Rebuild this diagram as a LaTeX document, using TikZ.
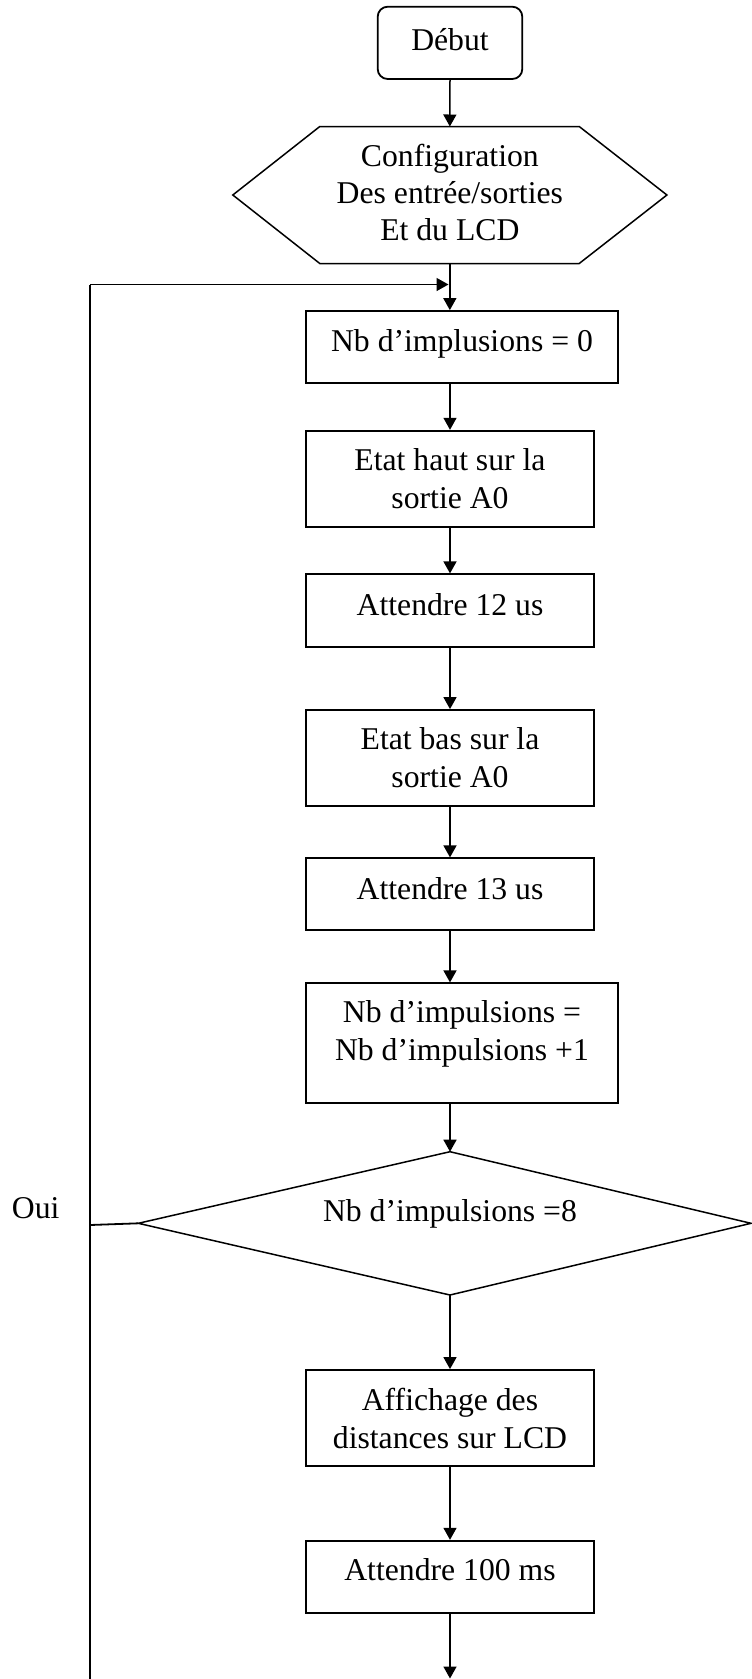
\documentclass[tikz,border=0pt]{standalone}
\usepackage{fontspec}
\setmainfont{Liberation Serif}
\usetikzlibrary{arrows.meta}
\newcommand{\boxtxt}[2]{\raisebox{#1}[\height][\depth]{\begin{tabular}{@{}c@{}}#2\end{tabular}}}
\begin{document}
\begin{tikzpicture}[x=1pt,y=-1pt,
  every node/.style={font=\fontsize{31.7pt}{38pt}\selectfont, inner sep=0pt},
  stepbox/.style={draw, line width=1.8pt, rectangle, minimum width=288.6, minimum height=72},
  widebox/.style={stepbox, minimum width=312.6},
  startbox/.style={draw, line width=1.8pt, rectangle, rounded corners=10pt, minimum width=144.6, minimum height=72.3},
  shapeline/.style={line width=1.5pt, line join=miter},
  arr/.style={line width=1.5pt, -{Triangle[length=12pt,width=13pt]}},
  plain/.style={line width=1.8pt}
]
\useasboundingbox (0,0) rectangle (752,1679);

% nodes
\node[startbox] (debut) at (450,42.85) {\boxtxt{0pt}{Début}};
\node[minimum width=433.7, minimum height=136.6] (hex) at (449.85,195)
  {\def\arraystretch{0.97}\boxtxt{-1pt}{Configuration\\Des entrée/sorties\\Et du LCD}};
\node[widebox, minimum height=71.7] (nb0) at (462,346.85) {\boxtxt{2.8pt}{Nb d’implusions = 0}};
\node[stepbox, minimum height=96.3] (etath) at (450,478.85) {\boxtxt{-2.6pt}{Etat haut sur la\\sortie A0}};
\node[stepbox, minimum height=72.7] (a12) at (450,610.65) {\boxtxt{3.2pt}{Attendre 12 us}};
\node[stepbox, minimum height=96.3] (etatb) at (450,758.15) {\boxtxt{-2.6pt}{Etat bas sur la\\sortie A0}};
\node[stepbox, minimum height=71.7] (a13) at (450,894.15) {\boxtxt{2.5pt}{Attendre 13 us}};
\node[widebox, minimum height=120] (inc) at (462,1043.3) {\boxtxt{9.9pt}{Nb d’impulsions =\\Nb d’impulsions +1}};
\node (dmd) at (450,1223.35) {\boxtxt{9.3pt}{Nb d’impulsions =8}};
\node[stepbox, minimum height=96] (aff) at (450,1418) {\boxtxt{-3.4pt}{Affichage des\\distances sur LCD}};
\node[stepbox, minimum height=72] (a100) at (450,1576.7) {\boxtxt{3.5pt}{Attendre 100 ms}};
\node[anchor=base west] (oui) at (11.7,1218) {Oui};

% hexagon outline
\draw[shapeline] (hex.west) -- ([xshift=87pt]hex.north west) -- ([xshift=-87.7pt]hex.north east)
  -- (hex.east) -- ([xshift=-87.7pt]hex.south east) -- ([xshift=87pt]hex.south west) -- cycle;

% decision outline
\coordinate (dT) at (450,1151.7);
\coordinate (dB) at (450,1295);
\coordinate (dL) at (138.3,1223.3);
\coordinate (dR) at (751,1223.3);
\draw[shapeline] (dL) -- (dT) -- (dR) -- (dB) -- cycle;

% loop coordinates
\coordinate (lbot) at (90,1679);
\coordinate (ltop) at (90,284.5);
\coordinate (ljoin) at (448.5,284.5);
\coordinate (lmid) at (90,1225);
\coordinate (fin) at (450,1678.5);

% connectors
\draw[arr] (debut.south) -- (hex.north);
\draw[arr] (hex.south) -- (hex.south |- nb0.north);
\draw[arr] (etath.north |- nb0.south) -- (etath.north);
\draw[arr] (etath.south) -- (a12.north);
\draw[arr] (a12.south) -- (etatb.north);
\draw[arr] (etatb.south) -- (a13.north);
\draw[arr] (a13.south) -- (a13.south |- inc.north);
\draw[arr] (dT |- inc.south) -- (dT);
\draw[arr] (dB) -- (aff.north);
\draw[arr] (aff.south) -- (a100.north);
\draw[arr] (a100.south) -- (fin);

% loop back (Oui)
\draw[plain] (dL) -- (lmid);
\draw[plain] (lbot) -- (ltop);
\draw[arr] (ltop) -- (ljoin);
\end{tikzpicture}
\end{document}
